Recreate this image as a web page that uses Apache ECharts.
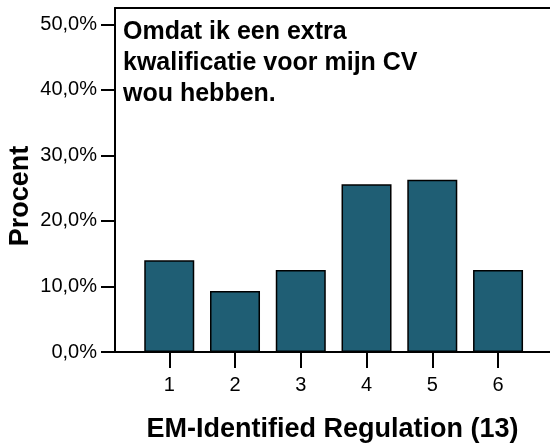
<!DOCTYPE html>
<html>
<head>
<meta charset="utf-8">
<script src="https://cdn.jsdelivr.net/npm/echarts@6/dist/echarts.min.js"></script>
<style>
  html, body { margin: 0; padding: 0; background: #fff; }
  #chart { width: 550px; height: 446px; }
</style>
</head>
<body>
<div id="chart"></div>
<script>
  // categories and percentages
  const categories = [1, 2, 3, 4, 5, 6];
  const percents = [14.0, 9.3, 12.5, 25.6, 26.3, 12.5];
  const yTicks = [0, 10, 20, 30, 40, 50];
  const noteLines = ['Omdat ik een extra', 'kwalificatie voor mijn CV', 'wou hebben.'];

  const font = 'Arial, "Liberation Sans", sans-serif';
  const chart = echarts.init(document.getElementById('chart'), null, { renderer: 'canvas' });

  chart.setOption({
    animation: false,
    grid: { left: 115, right: 0, top: 8, bottom: 94, outerBoundsMode: 'none', containLabel: false },
    xAxis: [
      {
        type: 'value',
        min: 0.175,
        max: 6.79,
        name: 'EM-Identified Regulation (13)',
        nameLocation: 'middle',
        nameGap: 64,
        nameTextStyle: { fontFamily: font, fontSize: 27, fontWeight: 'bold', color: '#000' },
        axisLine: { show: true, lineStyle: { color: '#000', width: 2 } },
        axisTick: { show: true, length: 16, lineStyle: { color: '#000', width: 2 }, customValues: categories },
        axisLabel: { fontFamily: font, fontSize: 20, color: '#000', margin: 23, customValues: categories },
        splitLine: { show: false }
      },
      {
        type: 'value',
        position: 'top',
        min: 0, max: 1,
        axisLine: { show: true, lineStyle: { color: '#000', width: 2 } },
        axisTick: { show: false },
        axisLabel: { show: false },
        splitLine: { show: false }
      }
    ],
    yAxis: {
      type: 'value',
      min: 0,
      max: 52.5,
      axisLine: { show: true, lineStyle: { color: '#000', width: 2 } },
      axisTick: { show: true, length: 14, lineStyle: { color: '#000', width: 2 }, customValues: yTicks },
      axisLabel: {
        fontFamily: font, fontSize: 20, color: '#000', margin: 18,
        customValues: yTicks,
        formatter: v => v.toFixed(1).replace('.', ',') + '%'
      },
      splitLine: { show: false }
    },
    series: [{
      type: 'bar',
      barWidth: 50,
      data: categories.map((c, i) => [c, percents[i]]),
      itemStyle: { color: '#1f5e74', borderColor: '#000', borderWidth: 1.5 }
    }],
    graphic: [
      {
        type: 'text',
        left: 123,
        top: 17,
        style: {
          text: noteLines.join('\n'),
          fontFamily: font,
          fontSize: 25,
          fontWeight: 'bold',
          lineHeight: 31,
          fill: '#000'
        }
      },
      {
        // y axis title
        type: 'text',
        x: 21,
        y: 196,
        rotation: Math.PI / 2,
        style: {
          text: 'Procent',
          fontFamily: font,
          fontSize: 27,
          fontWeight: 'bold',
          fill: '#000',
          align: 'center',
          verticalAlign: 'middle'
        }
      }
    ]
  });
</script>
</body>
</html>
